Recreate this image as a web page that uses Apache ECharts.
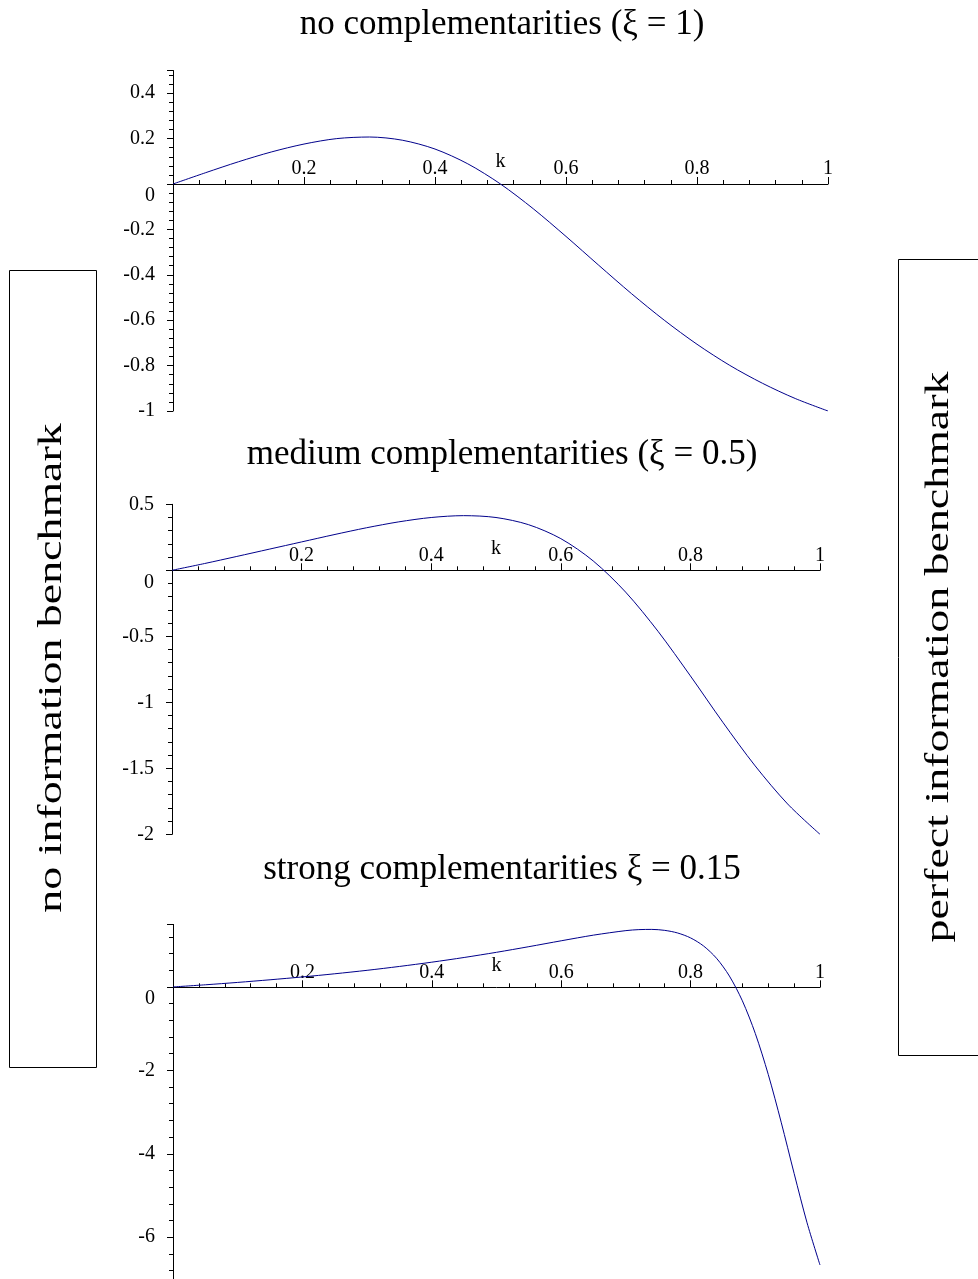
<!DOCTYPE html>
<html lang="en">
<head>
    <meta charset="UTF-8">
    <title>complementarities</title>
    <script src="https://cdn.jsdelivr.net/npm/echarts@6/dist/echarts.min.js"></script>
    <style>
        html, body { margin: 0; padding: 0; background: #fff; }
    </style>
</head>

<body>
<div id="main" style="width: 978px;height:1279px;"></div>
<script type="text/javascript">
    // k values (x axis)
    var kTop = [0, 0.05, 0.1, 0.15, 0.2, 0.25, 0.3, 0.35, 0.4, 0.45, 0.5,
        0.55, 0.6, 0.65, 0.7, 0.75, 0.8, 0.85, 0.9, 0.95, 1];
    var kStrong = [0, 0.05, 0.1, 0.15, 0.2, 0.25, 0.3, 0.35, 0.4, 0.45, 0.5, 0.55, 0.6, 0.65, 0.7,
        0.72, 0.74, 0.76, 0.78, 0.8, 0.82, 0.84, 0.86, 0.88, 0.9, 0.92, 0.94, 0.96, 0.98, 1];

    // curves
    var noComp = [0, 0.050, 0.098, 0.141, 0.176, 0.200, 0.207, 0.193, 0.154, 0.089, 0,
        -0.109, -0.231, -0.358, -0.483, -0.600, -0.706, -0.799, -0.878, -0.945, -1];
    var mediumComp = [0, 0.051, 0.105, 0.160, 0.215, 0.270, 0.322, 0.367, 0.400, 0.414, 0.400,
        0.346, 0.240, 0.071, -0.165, -0.462, -0.800, -1.151, -1.482, -1.770, -2.000];
    var strongComp = [0, 0.052, 0.109, 0.172, 0.240, 0.316, 0.399, 0.492, 0.594, 0.707, 0.831,
        0.966, 1.107, 1.243, 1.351, 1.375, 1.380, 1.357, 1.294, 1.176, 0.983, 0.689, 0.261,
        -0.332, -1.116, -2.097, -3.243, -4.470, -5.655, -6.667];

    // titles and side labels
    var titles = ['no complementarities (\u03be = 1)',
        'medium complementarities (\u03be = 0.5)',
        'strong complementarities \u03be = 0.15'];
    var leftLabel = 'no information benchmark';
    var rightLabel = 'perfect information benchmark';

    // y axis settings per panel
    var yMin = [-1, -2, -8];
    var yMax = [0.5, 0.5, 1.5];
    var yStep = [0.2, 0.5, 2];

    var serif = 'Liberation Serif';
    var lineColor = '#00008b';

    function pairs(xs, ys) {
        var out = [];
        for (var i = 0; i < xs.length; i++) {
            out.push([xs[i], ys[i]]);
        }
        return out;
    }

    var myChart = echarts.init(document.getElementById('main'));

    // the last panel runs past the bottom edge, like the original
    var grids = [
        {left: 173, top: 70.5, width: 655, height: 340.5, outerBoundsMode: 'none'},
        {left: 172, top: 504.3, width: 648, height: 330, outerBoundsMode: 'none'},
        {left: 173, top: 924.4, width: 647, height: 396.2, outerBoundsMode: 'none'}
    ];
    // distance from grid bottom up to the y = 0 line
    var zeroLift = [227, 264, 333.3];

    var xAxes = [], yAxes = [];
    for (var i = 0; i < 3; i++) {
        xAxes.push({
            type: 'value', gridIndex: i, min: 0, max: 1, interval: 0.2,
            offset: -zeroLift[i],
            name: 'k', nameLocation: 'middle', nameGap: -32, nameMoveOverlap: false,
            nameTextStyle: {fontFamily: serif, fontSize: 20, color: '#000'},
            axisLine: {onZero: false, lineStyle: {color: '#000', width: 1}},
            axisTick: {inside: true, length: 7, lineStyle: {color: '#000'}},
            minorTick: {show: true, splitNumber: 5, length: 4, lineStyle: {color: '#000'}},
            axisLabel: {inside: true, margin: 5, showMinLabel: false,
                fontFamily: serif, fontSize: 20, color: '#000'},
            splitLine: {show: false}
        });
        yAxes.push({
            type: 'value', gridIndex: i, min: yMin[i], max: yMax[i], interval: yStep[i],
            axisLine: {show: true, onZero: false, lineStyle: {color: '#000', width: 1}},
            axisTick: {length: 6, lineStyle: {color: '#000'}},
            minorTick: {show: true, splitNumber: 5, length: 4, lineStyle: {color: '#000'}},
            axisLabel: {
                margin: 18, showMaxLabel: i === 1, fontFamily: serif, fontSize: 20, color: '#000',
                formatter: function (v) {
                    return v === 0 ? '{z|0}' : String(v);
                },
                rich: {z: {fontFamily: serif, fontSize: 20, color: '#000', padding: [24, 0, 0, 0]}}
            },
            splitLine: {show: false}
        });
    }

    var option = {
        animation: false,
        backgroundColor: '#fff',
        title: titles.map(function (t, i) {
            return {
                text: t, left: 497, textAlign: 'center', top: [2, 432, 847][i],
                textStyle: {fontFamily: serif, fontWeight: 'normal', fontSize: 35, color: '#000'}
            };
        }),
        grid: grids,
        xAxis: xAxes,
        yAxis: yAxes,
        series: [
            {type: 'line', xAxisIndex: 0, yAxisIndex: 0, data: pairs(kTop, noComp),
                smooth: 0.3, showSymbol: false, lineStyle: {color: lineColor, width: 1}},
            {type: 'line', xAxisIndex: 1, yAxisIndex: 1, data: pairs(kTop, mediumComp),
                smooth: 0.3, showSymbol: false, lineStyle: {color: lineColor, width: 1}},
            {type: 'line', xAxisIndex: 2, yAxisIndex: 2, data: pairs(kStrong, strongComp),
                smooth: 0.3, showSymbol: false, lineStyle: {color: lineColor, width: 1}}
        ],
        graphic: [
            {type: 'rect', shape: {x: 9.5, y: 270.5, width: 87, height: 797},
                style: {fill: 'none', stroke: '#000', lineWidth: 1}},
            {type: 'rect', shape: {x: 898.5, y: 259.5, width: 100, height: 796},
                style: {fill: 'none', stroke: '#000', lineWidth: 1}},
            {type: 'text', x: 52, y: 668, rotation: Math.PI / 2, scaleX: 1.35,
                style: {text: leftLabel, font: '34px "Liberation Serif"', fill: '#000',
                    align: 'center', verticalAlign: 'middle'}},
            {type: 'text', x: 939, y: 657, rotation: Math.PI / 2, scaleX: 1.35,
                style: {text: rightLabel, font: '34px "Liberation Serif"', fill: '#000',
                    align: 'center', verticalAlign: 'middle'}}
        ]
    };

    myChart.setOption(option);
</script>
</body>
</html>
